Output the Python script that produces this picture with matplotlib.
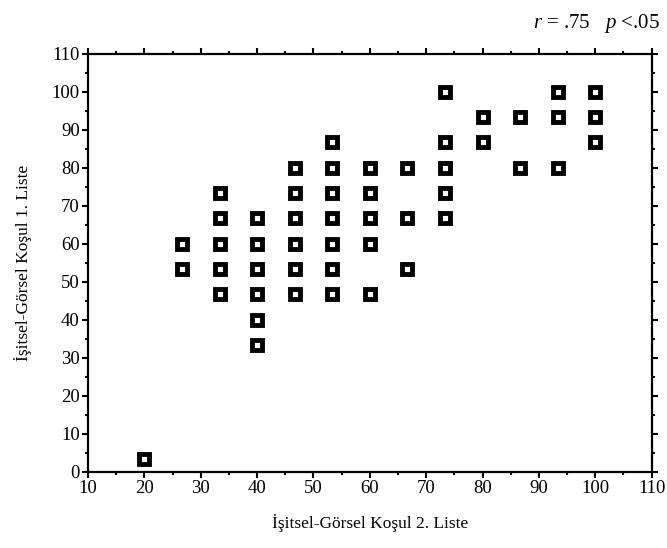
import matplotlib
matplotlib.use('Agg')
import matplotlib.pyplot as plt
from matplotlib.ticker import MultipleLocator

plt.rcParams['font.family'] = ['Liberation Serif', 'DejaVu Serif']
plt.rcParams['mathtext.fontset'] = 'custom'
plt.rcParams['mathtext.rm'] = 'Liberation Serif'
plt.rcParams['mathtext.it'] = 'Liberation Serif:italic'

# Score pairs (percent of 15 items)
list2 = [20,
         26.67, 26.67,
         33.33, 33.33, 33.33, 33.33, 33.33,
         40, 40, 40, 40, 40, 40,
         46.67, 46.67, 46.67, 46.67, 46.67, 46.67,
         53.33, 53.33, 53.33, 53.33, 53.33, 53.33, 53.33,
         60, 60, 60, 60, 60,
         66.67, 66.67, 66.67,
         73.33, 73.33, 73.33, 73.33, 73.33,
         80, 80,
         86.67, 86.67,
         93.33, 93.33, 93.33,
         100, 100, 100]
list1 = [3.33,
         60, 53.33,
         73.33, 66.67, 60, 53.33, 46.67,
         66.67, 60, 53.33, 46.67, 40, 33.33,
         80, 73.33, 66.67, 60, 53.33, 46.67,
         86.67, 80, 73.33, 66.67, 60, 53.33, 46.67,
         80, 73.33, 66.67, 60, 46.67,
         80, 66.67, 53.33,
         100, 86.67, 80, 73.33, 66.67,
         93.33, 86.67,
         93.33, 80,
         100, 93.33, 80,
         100, 93.33, 86.67]

fig = plt.figure(figsize=(6.67, 5.48), dpi=100)
ax = fig.add_axes([0.132, 0.139, 0.845, 0.763])

ax.plot(list2, list1, 's', markersize=6.5, markerfacecolor='white',
        markeredgecolor='black', markeredgewidth=3.5, linestyle='none')

ax.set_xlim(10, 110)
ax.set_ylim(0, 110)
ax.xaxis.set_major_locator(MultipleLocator(10))
ax.yaxis.set_major_locator(MultipleLocator(10))
ax.xaxis.set_minor_locator(MultipleLocator(5))
ax.yaxis.set_minor_locator(MultipleLocator(5))
ax.tick_params(which='both', direction='out', top=True, right=True,
               labelsize=13.5, width=1.5, pad=2)
ax.tick_params(which='major', length=4)
ax.tick_params(which='minor', length=2.5)
for s in ax.spines.values():
    s.set_linewidth(1.6)

ax.set_xlabel('İşitsel-Görsel Koşul 2. Liste', fontsize=12.5, labelpad=12)
ax.set_ylabel('İşitsel-Görsel Koşul 1. Liste', fontsize=12.5, labelpad=14)

fig.text(0.99, 0.958, r'$r$ = .75   $p$ <.05', ha='right', va='center',
         fontsize=15)

fig.savefig('out.png', dpi=100)
